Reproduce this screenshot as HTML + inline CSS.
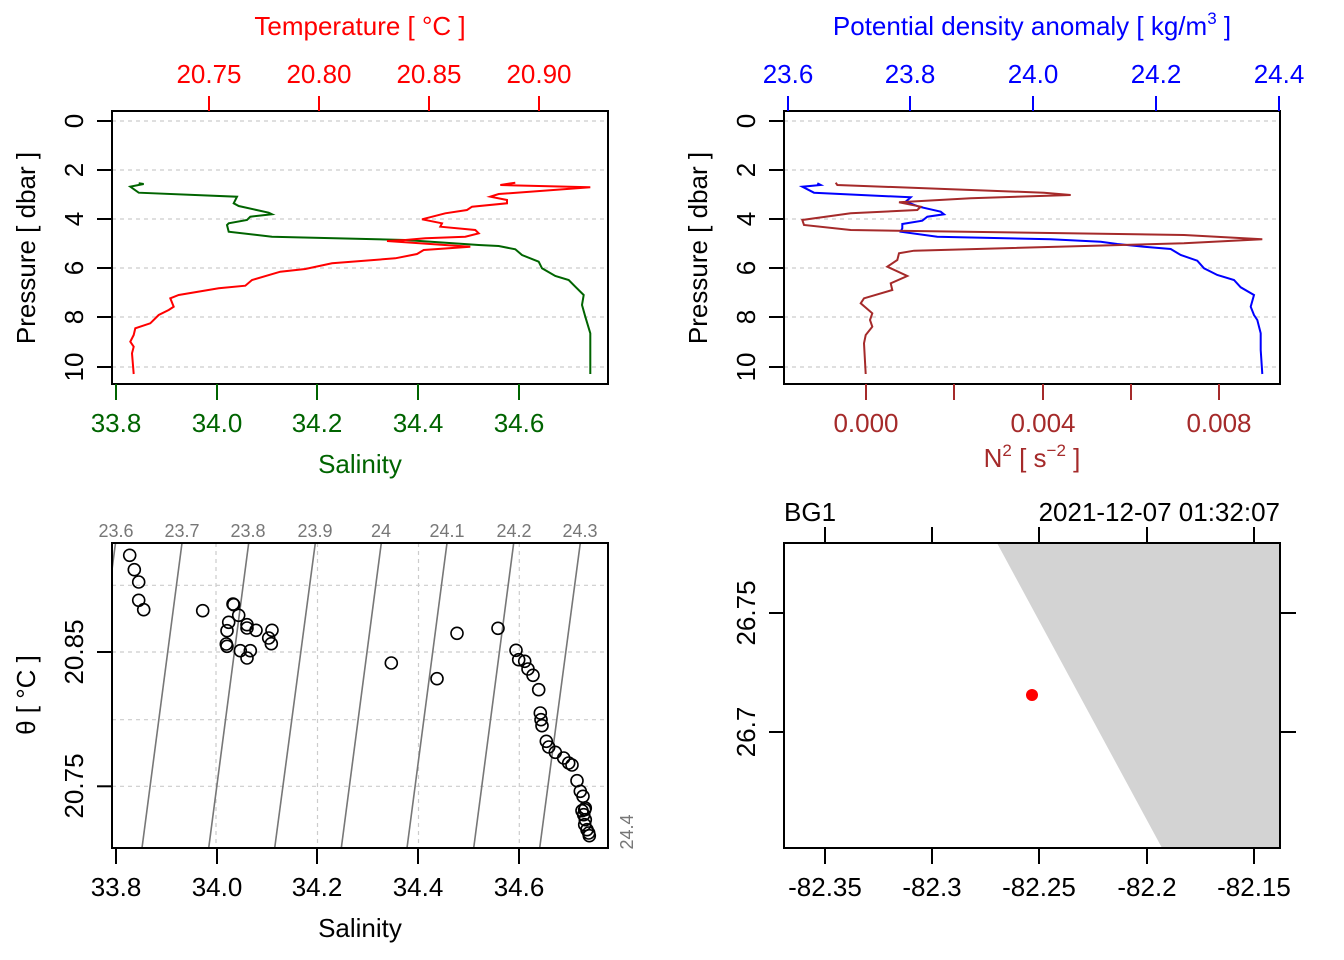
<!DOCTYPE html>
<html><head><meta charset="utf-8"><style>
html,body{margin:0;padding:0;background:#fff}
svg{display:block;font-family:"Liberation Sans",sans-serif}
</style></head><body>
<svg width="1344" height="960" viewBox="0 0 1344 960" xmlns="http://www.w3.org/2000/svg">
<rect width="1344" height="960" fill="#fff"/>
<!-- ===== Panel 1 ===== -->
<g stroke="#ccc" stroke-width="1.2" stroke-dasharray="4,4">
<line x1="112" y1="121" x2="608" y2="121"/><line x1="112" y1="170" x2="608" y2="170"/><line x1="112" y1="219" x2="608" y2="219"/><line x1="112" y1="268" x2="608" y2="268"/><line x1="112" y1="317" x2="608" y2="317"/><line x1="112" y1="367" x2="608" y2="367"/>
</g>
<polyline fill="none" stroke="#006400" stroke-width="2" points="138.7,183.3 143.7,184 130.3,186.7 138.7,192.7 237,196.7 233.7,203.3 238.7,206 268.7,212.7 272,214.3 250.3,216.7 247,220 228.7,223.3 227,225 228.7,231.7 272,236.7 405.3,240 478.7,245 498.7,246 515.3,249.3 522,255 538.7,261.7 542,268.3 555.3,276 568.7,280 575.3,286.7 583.7,295 582,305 585.3,316.7 590.3,333.3 590.3,374"/>
<polyline fill="none" stroke="#ff0000" stroke-width="2" points="500.3,185 515.3,182.7 500.3,185 590.3,187.3 498.7,194 490.3,196.7 507,200 507,203.3 472,206.7 467,210 445.3,213.3 422,219.3 442,223.3 440.3,226.7 475.3,230 478.7,233.3 465.3,236.7 425.3,238.3 405.3,240 387,241 470.3,246.7 423.7,250 417,254 395.3,258.3 332,263.3 305.3,269 280.3,271.7 252,280 245.3,285.7 218.7,288.3 178.7,295 170.3,298.3 173.7,306.7 168.7,310 158.7,315 150.3,323.3 135.3,328.3 133.7,335 130.3,341.7 133.7,346.7 132,353.3 133.7,374"/>
<rect x="112" y="111" width="496" height="273" fill="none" stroke="#000" stroke-width="2"/>
<g stroke="#000" stroke-width="2"><line x1="97" y1="121" x2="112" y2="121"/><line x1="97" y1="170" x2="112" y2="170"/><line x1="97" y1="219" x2="112" y2="219"/><line x1="97" y1="268" x2="112" y2="268"/><line x1="97" y1="317" x2="112" y2="317"/><line x1="97" y1="367" x2="112" y2="367"/></g>
<g font-size="26" text-anchor="middle">
<text transform="translate(83,121) rotate(-90)">0</text><text transform="translate(83,170) rotate(-90)">2</text><text transform="translate(83,219) rotate(-90)">4</text><text transform="translate(83,268) rotate(-90)">6</text><text transform="translate(83,317) rotate(-90)">8</text><text transform="translate(83,367) rotate(-90)">10</text>
<text transform="translate(35,248) rotate(-90)">Pressure [ dbar ]</text>
</g>
<g stroke="#ff0000" stroke-width="2"><line x1="209" y1="96" x2="209" y2="111"/><line x1="319" y1="96" x2="319" y2="111"/><line x1="429" y1="96" x2="429" y2="111"/><line x1="539" y1="96" x2="539" y2="111"/></g>
<g font-size="26" text-anchor="middle" fill="#ff0000">
<text x="209" y="83">20.75</text><text x="319" y="83">20.80</text><text x="429" y="83">20.85</text><text x="539" y="83">20.90</text>
<text x="360" y="35">Temperature [ °C ]</text>
</g>
<g stroke="#006400" stroke-width="2"><line x1="116" y1="384" x2="116" y2="400"/><line x1="217" y1="384" x2="217" y2="400"/><line x1="317" y1="384" x2="317" y2="400"/><line x1="418" y1="384" x2="418" y2="400"/><line x1="519" y1="384" x2="519" y2="400"/></g>
<g font-size="26" text-anchor="middle" fill="#006400">
<text x="116" y="432">33.8</text><text x="217" y="432">34.0</text><text x="317" y="432">34.2</text><text x="418" y="432">34.4</text><text x="519" y="432">34.6</text>
<text x="360" y="473">Salinity</text>
</g>
<!-- ===== Panel 2 ===== -->
<g stroke="#ccc" stroke-width="1.2" stroke-dasharray="4,4">
<line x1="784" y1="121" x2="1280" y2="121"/><line x1="784" y1="170" x2="1280" y2="170"/><line x1="784" y1="219" x2="1280" y2="219"/><line x1="784" y1="268" x2="1280" y2="268"/><line x1="784" y1="317" x2="1280" y2="317"/><line x1="784" y1="367" x2="1280" y2="367"/>
</g>
<polyline fill="none" stroke="#0000ff" stroke-width="2" points="817.3,183.3 820.7,185 802.3,186.7 814,192.7 910.7,197.3 905.7,201.7 919,206.7 940.7,211.7 944,214.3 927.3,216.7 922.3,220.7 902.3,224 902.3,228.3 900.7,231.7 937.3,236.7 1050.7,239.3 1100.7,241.7 1117.3,244 1144,246.7 1170.7,249 1180.7,255 1197.3,260.7 1204,268.3 1217.3,275 1234,280 1240.7,287.3 1254,295 1250.7,306.7 1254,315 1257.3,320 1260.7,333.3 1260.7,350 1262.3,374"/>
<polyline fill="none" stroke="#a52a2a" stroke-width="2" points="835.7,182.7 837.3,185 1044,192.7 1070.7,195 970.7,198.3 899,202.3 920.7,206.7 917.3,210 850.7,213.3 802.3,220 804,225 850.7,230 1184,235 1262.3,239.3 1184,243.3 914,250.7 899,253.3 897.3,260 887.3,266.7 907.3,276 890.7,283.3 892.3,290 864,298.3 860.7,303.3 872.3,313.3 870,320 872.3,326.7 865.7,335 864,343.3 865.7,374"/>
<rect x="784" y="111" width="496" height="273" fill="none" stroke="#000" stroke-width="2"/>
<g stroke="#000" stroke-width="2"><line x1="769" y1="121" x2="784" y2="121"/><line x1="769" y1="170" x2="784" y2="170"/><line x1="769" y1="219" x2="784" y2="219"/><line x1="769" y1="268" x2="784" y2="268"/><line x1="769" y1="317" x2="784" y2="317"/><line x1="769" y1="367" x2="784" y2="367"/></g>
<g font-size="26" text-anchor="middle">
<text transform="translate(755,121) rotate(-90)">0</text><text transform="translate(755,170) rotate(-90)">2</text><text transform="translate(755,219) rotate(-90)">4</text><text transform="translate(755,268) rotate(-90)">6</text><text transform="translate(755,317) rotate(-90)">8</text><text transform="translate(755,367) rotate(-90)">10</text>
<text transform="translate(707,248) rotate(-90)">Pressure [ dbar ]</text>
</g>
<g stroke="#0000ff" stroke-width="2"><line x1="788" y1="96" x2="788" y2="111"/><line x1="910" y1="96" x2="910" y2="111"/><line x1="1033" y1="96" x2="1033" y2="111"/><line x1="1156" y1="96" x2="1156" y2="111"/><line x1="1279" y1="96" x2="1279" y2="111"/></g>
<g font-size="26" text-anchor="middle" fill="#0000ff">
<text x="788" y="83">23.6</text><text x="910" y="83">23.8</text><text x="1033" y="83">24.0</text><text x="1156" y="83">24.2</text><text x="1279" y="83">24.4</text>
<text x="1032" y="35">Potential density anomaly [ kg/m<tspan font-size="17" dy="-11">3</tspan><tspan dy="11"> ]</tspan></text>
</g>
<g stroke="#a52a2a" stroke-width="2"><line x1="866" y1="384" x2="866" y2="400"/><line x1="954" y1="384" x2="954" y2="400"/><line x1="1043" y1="384" x2="1043" y2="400"/><line x1="1131" y1="384" x2="1131" y2="400"/><line x1="1219" y1="384" x2="1219" y2="400"/></g>
<g font-size="26" text-anchor="middle" fill="#a52a2a">
<text x="866" y="432">0.000</text><text x="1043" y="432">0.004</text><text x="1219" y="432">0.008</text>
<text x="1032" y="467">N<tspan font-size="17" dy="-11">2</tspan><tspan dy="11"> [ s</tspan><tspan font-size="17" dy="-11">−2</tspan><tspan dy="11"> ]</tspan></text>
</g>
<!-- ===== Panel 3 ===== -->
<defs><clipPath id="c3"><rect x="112" y="543" width="496" height="305"/></clipPath></defs>
<g stroke="#ccc" stroke-width="1.2" stroke-dasharray="4,4">
<line x1="216" y1="543" x2="216" y2="848"/><line x1="317.5" y1="543" x2="317.5" y2="848"/><line x1="418.5" y1="543" x2="418.5" y2="848"/><line x1="519.3" y1="543" x2="519.3" y2="848"/>
<line x1="112" y1="585.3" x2="608" y2="585.3"/><line x1="112" y1="652" x2="608" y2="652"/><line x1="112" y1="719.7" x2="608" y2="719.7"/><line x1="112" y1="786.3" x2="608" y2="786.3"/>
</g>
<g clip-path="url(#c3)" stroke="#777" stroke-width="1.6">
<line x1="115.5" y1="543" x2="75.5" y2="848"/><line x1="182" y1="543" x2="142" y2="848"/><line x1="248.7" y1="543" x2="208.7" y2="848"/><line x1="315.3" y1="543" x2="274.7" y2="848"/><line x1="381.3" y1="543" x2="341.3" y2="848"/><line x1="447" y1="543" x2="407" y2="848"/><line x1="513.7" y1="543" x2="473.7" y2="848"/><line x1="580.3" y1="543" x2="539.7" y2="848"/>
</g>
<g font-size="18" fill="#777" text-anchor="middle">
<text x="116" y="537">23.6</text><text x="182" y="537">23.7</text><text x="248" y="537">23.8</text><text x="315" y="537">23.9</text><text x="381" y="537">24</text><text x="447" y="537">24.1</text><text x="514" y="537">24.2</text><text x="580" y="537">24.3</text>
<text transform="translate(633,832) rotate(-90)">24.4</text>
</g>
<g fill="none" stroke="#000" stroke-width="1.6">
<circle cx="129.7" cy="555.3" r="6"/><circle cx="134.3" cy="569.7" r="6"/><circle cx="138.7" cy="582" r="6"/><circle cx="138.7" cy="600.3" r="6"/><circle cx="143.7" cy="609.7" r="6"/><circle cx="202.7" cy="610.7" r="6"/><circle cx="233.7" cy="604.7" r="6"/><circle cx="233" cy="604" r="6"/><circle cx="238.7" cy="615.3" r="6"/><circle cx="228.7" cy="622.3" r="6"/><circle cx="227" cy="630.7" r="6"/><circle cx="226.3" cy="644" r="6"/><circle cx="227" cy="646.3" r="6"/><circle cx="240.3" cy="650.7" r="6"/><circle cx="250.3" cy="650.7" r="6"/><circle cx="247" cy="658" r="6"/><circle cx="247" cy="624.7" r="6"/><circle cx="247" cy="628" r="6"/><circle cx="256" cy="630.3" r="6"/><circle cx="272" cy="630.3" r="6"/><circle cx="268.7" cy="638" r="6"/><circle cx="271.3" cy="643.7" r="6"/><circle cx="391.3" cy="663" r="6"/><circle cx="437" cy="678.7" r="6"/><circle cx="457" cy="633.3" r="6"/><circle cx="498" cy="628.3" r="6"/><circle cx="516" cy="650.3" r="6"/><circle cx="518.7" cy="659.7" r="6"/><circle cx="524.7" cy="661.3" r="6"/><circle cx="528" cy="669" r="6"/><circle cx="533" cy="675.3" r="6"/><circle cx="538.7" cy="689.7" r="6"/><circle cx="540.3" cy="713" r="6"/><circle cx="541" cy="719.7" r="6"/><circle cx="542" cy="725.7" r="6"/><circle cx="546.3" cy="741.3" r="6"/><circle cx="548.7" cy="747" r="6"/><circle cx="555.3" cy="752.3" r="6"/><circle cx="563.7" cy="758" r="6"/><circle cx="568.7" cy="763" r="6"/><circle cx="572" cy="765" r="6"/><circle cx="577" cy="780.7" r="6"/><circle cx="580.3" cy="791.3" r="6"/><circle cx="583" cy="796.3" r="6"/><circle cx="584.7" cy="809.7" r="6"/><circle cx="582" cy="810.7" r="6"/><circle cx="583.7" cy="814.7" r="6"/><circle cx="585.3" cy="819.7" r="6"/><circle cx="584.7" cy="824.7" r="6"/><circle cx="587" cy="829.7" r="6"/><circle cx="589.3" cy="835.7" r="6"/><circle cx="588.7" cy="833" r="6"/><circle cx="585.3" cy="808" r="6"/>
</g>
<rect x="112" y="543" width="496" height="305" fill="none" stroke="#000" stroke-width="2"/>
<g stroke="#000" stroke-width="2">
<line x1="97" y1="652" x2="112" y2="652"/><line x1="97" y1="786.3" x2="112" y2="786.3"/>
<line x1="116" y1="848" x2="116" y2="864"/><line x1="217" y1="848" x2="217" y2="864"/><line x1="317" y1="848" x2="317" y2="864"/><line x1="418" y1="848" x2="418" y2="864"/><line x1="519" y1="848" x2="519" y2="864"/>
</g>
<g font-size="26" text-anchor="middle">
<text transform="translate(83,652) rotate(-90)">20.85</text><text transform="translate(83,786) rotate(-90)">20.75</text>
<text transform="translate(35,695) rotate(-90)">θ [ °C ]</text>
<text x="116" y="896">33.8</text><text x="217" y="896">34.0</text><text x="317" y="896">34.2</text><text x="418" y="896">34.4</text><text x="519" y="896">34.6</text>
<text x="360" y="937">Salinity</text>
</g>
<!-- ===== Panel 4 ===== -->
<polygon points="997,543 1280,543 1280,848 1162,848" fill="#d3d3d3"/>
<circle cx="1032" cy="695" r="6" fill="#ff0000"/>
<rect x="784" y="543" width="496" height="305" fill="none" stroke="#000" stroke-width="2"/>
<g stroke="#000" stroke-width="2">
<line x1="825" y1="527" x2="825" y2="543"/><line x1="932" y1="527" x2="932" y2="543"/><line x1="1039" y1="527" x2="1039" y2="543"/><line x1="1147" y1="527" x2="1147" y2="543"/><line x1="1254" y1="527" x2="1254" y2="543"/>
<line x1="825" y1="848" x2="825" y2="864"/><line x1="932" y1="848" x2="932" y2="864"/><line x1="1039" y1="848" x2="1039" y2="864"/><line x1="1147" y1="848" x2="1147" y2="864"/><line x1="1254" y1="848" x2="1254" y2="864"/>
<line x1="769" y1="613" x2="784" y2="613"/><line x1="769" y1="732" x2="784" y2="732"/>
<line x1="1280" y1="613" x2="1296" y2="613"/><line x1="1280" y1="732" x2="1296" y2="732"/>
</g>
<g font-size="26" text-anchor="middle">
<text x="825" y="896">-82.35</text><text x="932" y="896">-82.3</text><text x="1039" y="896">-82.25</text><text x="1147" y="896">-82.2</text><text x="1254" y="896">-82.15</text>
<text transform="translate(755,613) rotate(-90)">26.75</text><text transform="translate(755,732) rotate(-90)">26.7</text>
<text x="784" y="521" text-anchor="start">BG1</text>
<text x="1280" y="521" text-anchor="end">2021-12-07 01:32:07</text>
</g>
</svg>
</body></html>
